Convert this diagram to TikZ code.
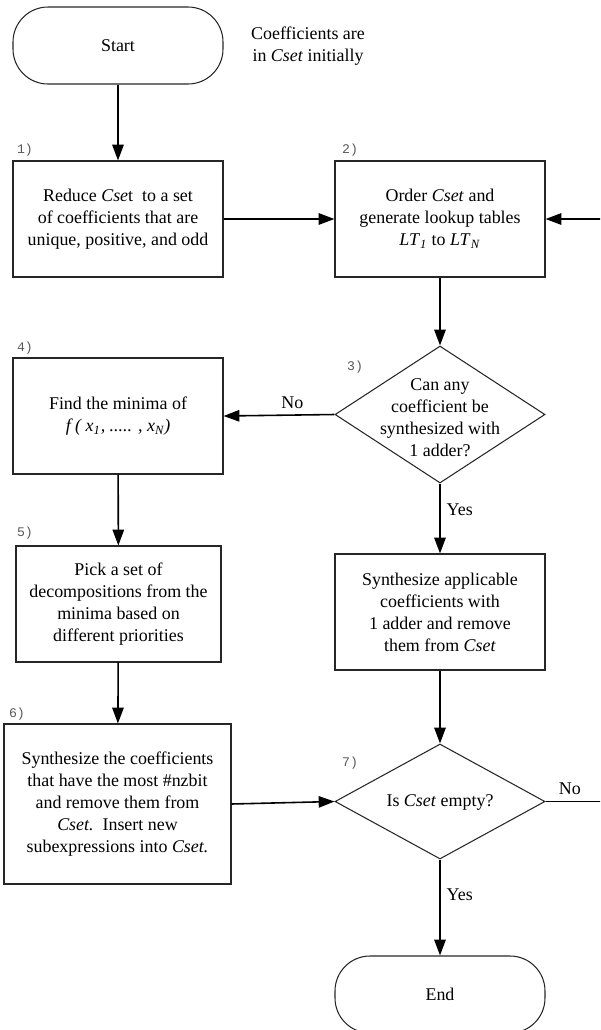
\documentclass[tikz,border=0pt]{standalone}
\usepackage{fontspec}
\setmainfont{Liberation Serif}
\setmonofont{Liberation Mono}
\usetikzlibrary{arrows.meta,shapes.geometric}

\begin{document}
\begin{tikzpicture}[
    font=\fontsize{10.2}{12.5}\selectfont,
    box/.style={draw=black!85, line width=0.6pt, minimum height=2.32cm,
                minimum width=4.2cm, align=center, inner sep=1pt},
    terminal/.style={box, minimum height=1.54cm, rounded corners=0.7cm},
    decision/.style={diamond, draw=black!85, line width=0.6pt,
                minimum width=4.2cm, minimum height=2.74cm, inner sep=0pt},
    flow/.style={-{Triangle[length=9pt, width=6.5pt]}, line width=0.9pt},
    note/.style={align=center},
    num/.style={font=\ttfamily\fontsize{7.5}{9}\selectfont, text=black!65,
                inner sep=0pt},
]
    \path[use as bounding box, clip] (0, 0) rectangle (12, -20.6);

    \node[terminal] (start) at (2.36, -0.91) {Start};
    \node[note] (initially) at (6.16, -0.92)
        {Coefficients are\\in \textit{Cset} initially};

    \node[box] (reduce) at (2.36, -4.38)
        {Reduce \textit{Cse}t\ \ to a set\\of coefficients that are\\unique, positive, and odd};
    \node[num] at (0.5, -3.0) {1)};
    \node[box] (order) at (8.8, -4.38)
        {Order \textit{Cset} and\\generate lookup tables\\
         \textit{LT}\textsubscript{\textit{1}} to \textit{LT}\textsubscript{\textit{N}}};
    \node[num] at (7.0, -3.0) {2)};

    \node[decision, minimum height=2.74cm] (canany) at (8.8, -8.29) {};
    \node[note] (canany text) at (8.8, -8.36)
        {Can any\\coefficient be\\synthesized with\\1 adder?};
    \node[num] at (7.1, -7.34) {3)};
    \node[box] (minima) at (2.36, -8.32)
        {Find the minima of\\
         \textit{f ( x\textsubscript{1}, ..... , x\textsubscript{N})}};
    \node[num] at (0.5, -6.96) {4)};

    \node[box, minimum width=4.1cm] (pick) at (2.37, -12.08)
        {Pick a set of\\decompositions from the\\minima based on\\different priorities};
    \node[num] at (0.5, -10.66) {5)};
    \node[box] (apply) at (8.8, -12.24)
        {Synthesize applicable\\coefficients with\\1 adder and remove\\them from \textit{Cset}};

    \node[box, minimum width=4.54cm, minimum height=3.2cm] (synth) at (2.35, -16.08)
        {Synthesize the coefficients\\that have the most \#nzbit\\and remove them from\\
         \textit{Cset.}\ \ Insert new\\subexpressions into \textit{Cset.}};
    \node[num] at (0.34, -14.28) {6)};
    \node[decision, minimum height=2.3cm] (empty) at (8.8, -16.03) {};
    \node[note] (empty text) at (8.8, -16.04) {Is \textit{Cset} empty?};
    \node[num] at (7.0, -15.26) {7)};

    \node[terminal] (stop) at (8.8, -19.89) {End};

    \draw[flow] (start) -- (reduce);
    \draw[flow] (reduce) -- (order);
    \draw[flow] (order) -- (canany);
    \draw[flow] (canany.west) -- node[above, pos=0.38] {No} (minima.east);
    \draw[flow] (canany.south) -- node[right, pos=0.37] {Yes} (apply.north);
    \draw[flow] (minima) -- (pick);
    \draw[flow] (pick) -- (synth);
    \draw[flow] (apply) -- (empty);
    \draw[flow] (synth.east) -- (empty.west);
    \draw[flow] (empty.south) -- node[right, pos=0.37] {Yes} (stop.north);
    \coordinate (back) at (12.3, -16.03);
    \draw[flow] (empty.east) -- node[above, pos=0.35] {No} (back) |- (order.east);
\end{tikzpicture}
\end{document}
